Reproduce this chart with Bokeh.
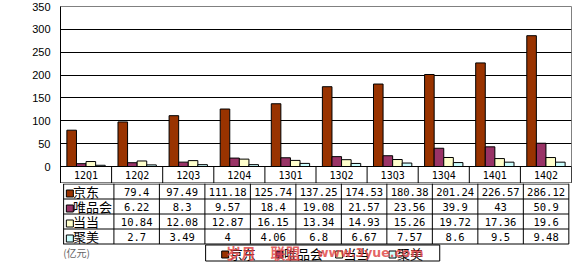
from bokeh.plotting import figure
from bokeh.layouts import column
from bokeh.models import Range1d, FixedTicker
from bokeh.core.properties import value
from bokeh.embed import file_html
from bokeh.resources import INLINE

# ---------------- data ----------------
categories = ["12Q1", "12Q2", "12Q3", "12Q4", "13Q1", "13Q2", "13Q3", "13Q4", "14Q1", "14Q2"]
series_names = ["京东", "唯品会", "当当", "聚美"]
jd = [79.4, 97.49, 111.18, 125.74, 137.25, 174.53, 180.38, 201.24, 226.57, 286.12]
vip = [6.22, 8.3, 9.57, 18.4, 19.08, 21.57, 23.56, 39.9, 43, 50.9]
dd = [10.84, 12.08, 12.87, 16.15, 13.34, 14.93, 15.26, 19.72, 17.36, 19.6]
jm = [2.7, 3.49, 4, 4.06, 6.8, 6.67, 7.57, 8.6, 9.5, 9.48]
y_ticks = [0, 50, 100, 150, 200, 250, 300, 350]
unit_label = "(亿元)"
watermark = ["岁月", "联盟", "www.3yue.com"]

series = [jd, vip, dd, jm]
colors = ["#993300", "#993366", "#FFFFCC", "#CCFFFF"]

# ---------------- layout constants ----------------
W = 574
LEFT = 60          # pixel x where the category area starts
COLW = 51.1        # pixel width of one category column
PLOT_PX = 160      # pixel height of the 0..350 value area
HDR_PX = 17        # pixel height of the header row (inside the chart frame)
YMAX = 350
HDR = YMAX * HDR_PX / PLOT_PX
NUM_FONT = value("DejaVu Sans Mono")
CJK_FONT = value("Noto Sans CJK SC")
n = len(categories)

# ---------------- chart (with table header row) ----------------
p = figure(width=W, height=6 + PLOT_PX + HDR_PX, x_range=Range1d(0, n), y_range=Range1d(-HDR, YMAX),
           output_backend="svg", toolbar_location=None, x_axis_location=None,
           min_border_left=LEFT, min_border_right=W - LEFT - int(round(COLW * n)),
           min_border_top=6, min_border_bottom=0)
p.outline_line_color = "#808080"
p.background_fill_color = "white"
p.border_fill_color = "white"
p.xgrid.visible = False
p.ygrid.ticker = FixedTicker(ticks=y_ticks[1:-1])
p.ygrid.grid_line_color = "black"
p.ygrid.grid_line_width = 1
p.yaxis.ticker = FixedTicker(ticks=y_ticks)
p.yaxis.axis_line_color = "black"
p.yaxis.major_tick_out = 0
p.yaxis.major_tick_in = 0
p.yaxis.minor_tick_line_color = None
p.yaxis.major_label_standoff = 10
p.yaxis.major_label_text_font = "Liberation Sans"
p.yaxis.major_label_text_font_size = "11px"
p.yaxis.major_label_text_color = "black"

margin = 0.125
bw = (1 - 2 * margin) / len(series)
for j, (vals, col) in enumerate(zip(series, colors)):
    xs = [i + margin + bw * (j + 0.5) for i in range(n)]
    p.vbar(x=xs, top=vals, width=bw, bottom=0, fill_color=col, line_color="black", line_width=1)

# zero line + header row
p.segment(x0=[0], y0=[0], x1=[n], y1=[0], line_color="black", line_width=1)
p.segment(x0=list(range(n + 1)), y0=[0] * (n + 1), x1=list(range(n + 1)), y1=[-HDR] * (n + 1),
          line_color="black", line_width=1)
p.text(x=[i + 0.5 for i in range(n)], y=[-HDR / 2] * n, text=categories, text_font=NUM_FONT,
       text_font_size="10px", text_align="center", text_baseline="middle", text_color="black")

# ---------------- data table body ----------------
TH = 263 - (6 + PLOT_PX + HDR_PX)
t = figure(width=W, height=TH, x_range=Range1d(-LEFT / COLW, (W - LEFT) / COLW),
           y_range=Range1d(TH, 0), output_backend="svg", toolbar_location=None,
           x_axis_location=None, y_axis_location=None, min_border=0)
t.outline_line_color = None
t.grid.visible = False
t.background_fill_color = "white"
t.border_fill_color = "white"


def px(xp):
    return (xp - LEFT) / COLW


row_lines = [0.5, 15.5, 30.5, 45.5, 60.5]
t.segment(x0=[px(3)] * len(row_lines), y0=row_lines, x1=[n] * len(row_lines), y1=row_lines,
          line_color="black", line_width=1)
t.segment(x0=list(range(n + 1)), y0=[0] * (n + 1), x1=list(range(n + 1)), y1=[60.5] * (n + 1),
          line_color="black", line_width=1)
t.segment(x0=[px(3.5)], y0=[0.5], x1=[px(3.5)], y1=[60.5], line_color="black", line_width=1)

for j, vals in enumerate(series):
    yc = 15 * j + 8
    t.text(x=[i + 0.5 for i in range(n)], y=[yc] * n, text=[f"{v:g}" for v in vals],
           text_font=NUM_FONT, text_font_size="10.5px", text_align="center",
           text_baseline="middle", text_color="black")
    t.scatter(x=[px(10.5)], y=[yc + 2], marker="square", size=7, fill_color=colors[j],
              line_color="black", line_width=1)
    t.text(x=[px(14)], y=[yc], text=[series_names[j]], text_font=CJK_FONT,
           text_font_size="13px", text_align="left", text_baseline="middle", text_color="black")

# unit label
t.text(x=[px(3)], y=[69], text=[unit_label], text_font=CJK_FONT, text_font_size="10px",
       text_align="left", text_baseline="middle", text_color="#666666")

# legend box
t.quad(left=[px(163)], right=[px(426)], top=[61.5], bottom=[77.5], fill_color="white",
       line_color="black", line_width=1)
leg_sq = [185, 246, 313, 373]
for j, name in enumerate(series_names):
    t.scatter(x=[px(leg_sq[j])], y=[71], marker="square", size=7, fill_color=colors[j],
              line_color="black", line_width=1)
    t.text(x=[px(leg_sq[j] + 5)], y=[69.5], text=[name], text_font=CJK_FONT,
           text_font_size="13px", text_align="left", text_baseline="middle", text_color="black")

# watermark over the legend
t.text(x=[px(186), px(236)], y=[69, 69], text=watermark[:2],
       text_font=CJK_FONT, text_font_size="15px", text_font_style="bold", text_align="left",
       text_baseline="middle", text_color="#e04848", text_alpha=0.85)
t.text(x=[px(288)], y=[69], text=watermark[2:],
       text_font=value("DejaVu Sans"), text_font_size="12.5px", text_font_style="bold",
       text_align="left", text_baseline="middle", text_color="#e04848", text_alpha=0.85)

layout = column(p, t, spacing=0)
open("out.html", "w").write(file_html(layout, INLINE))
